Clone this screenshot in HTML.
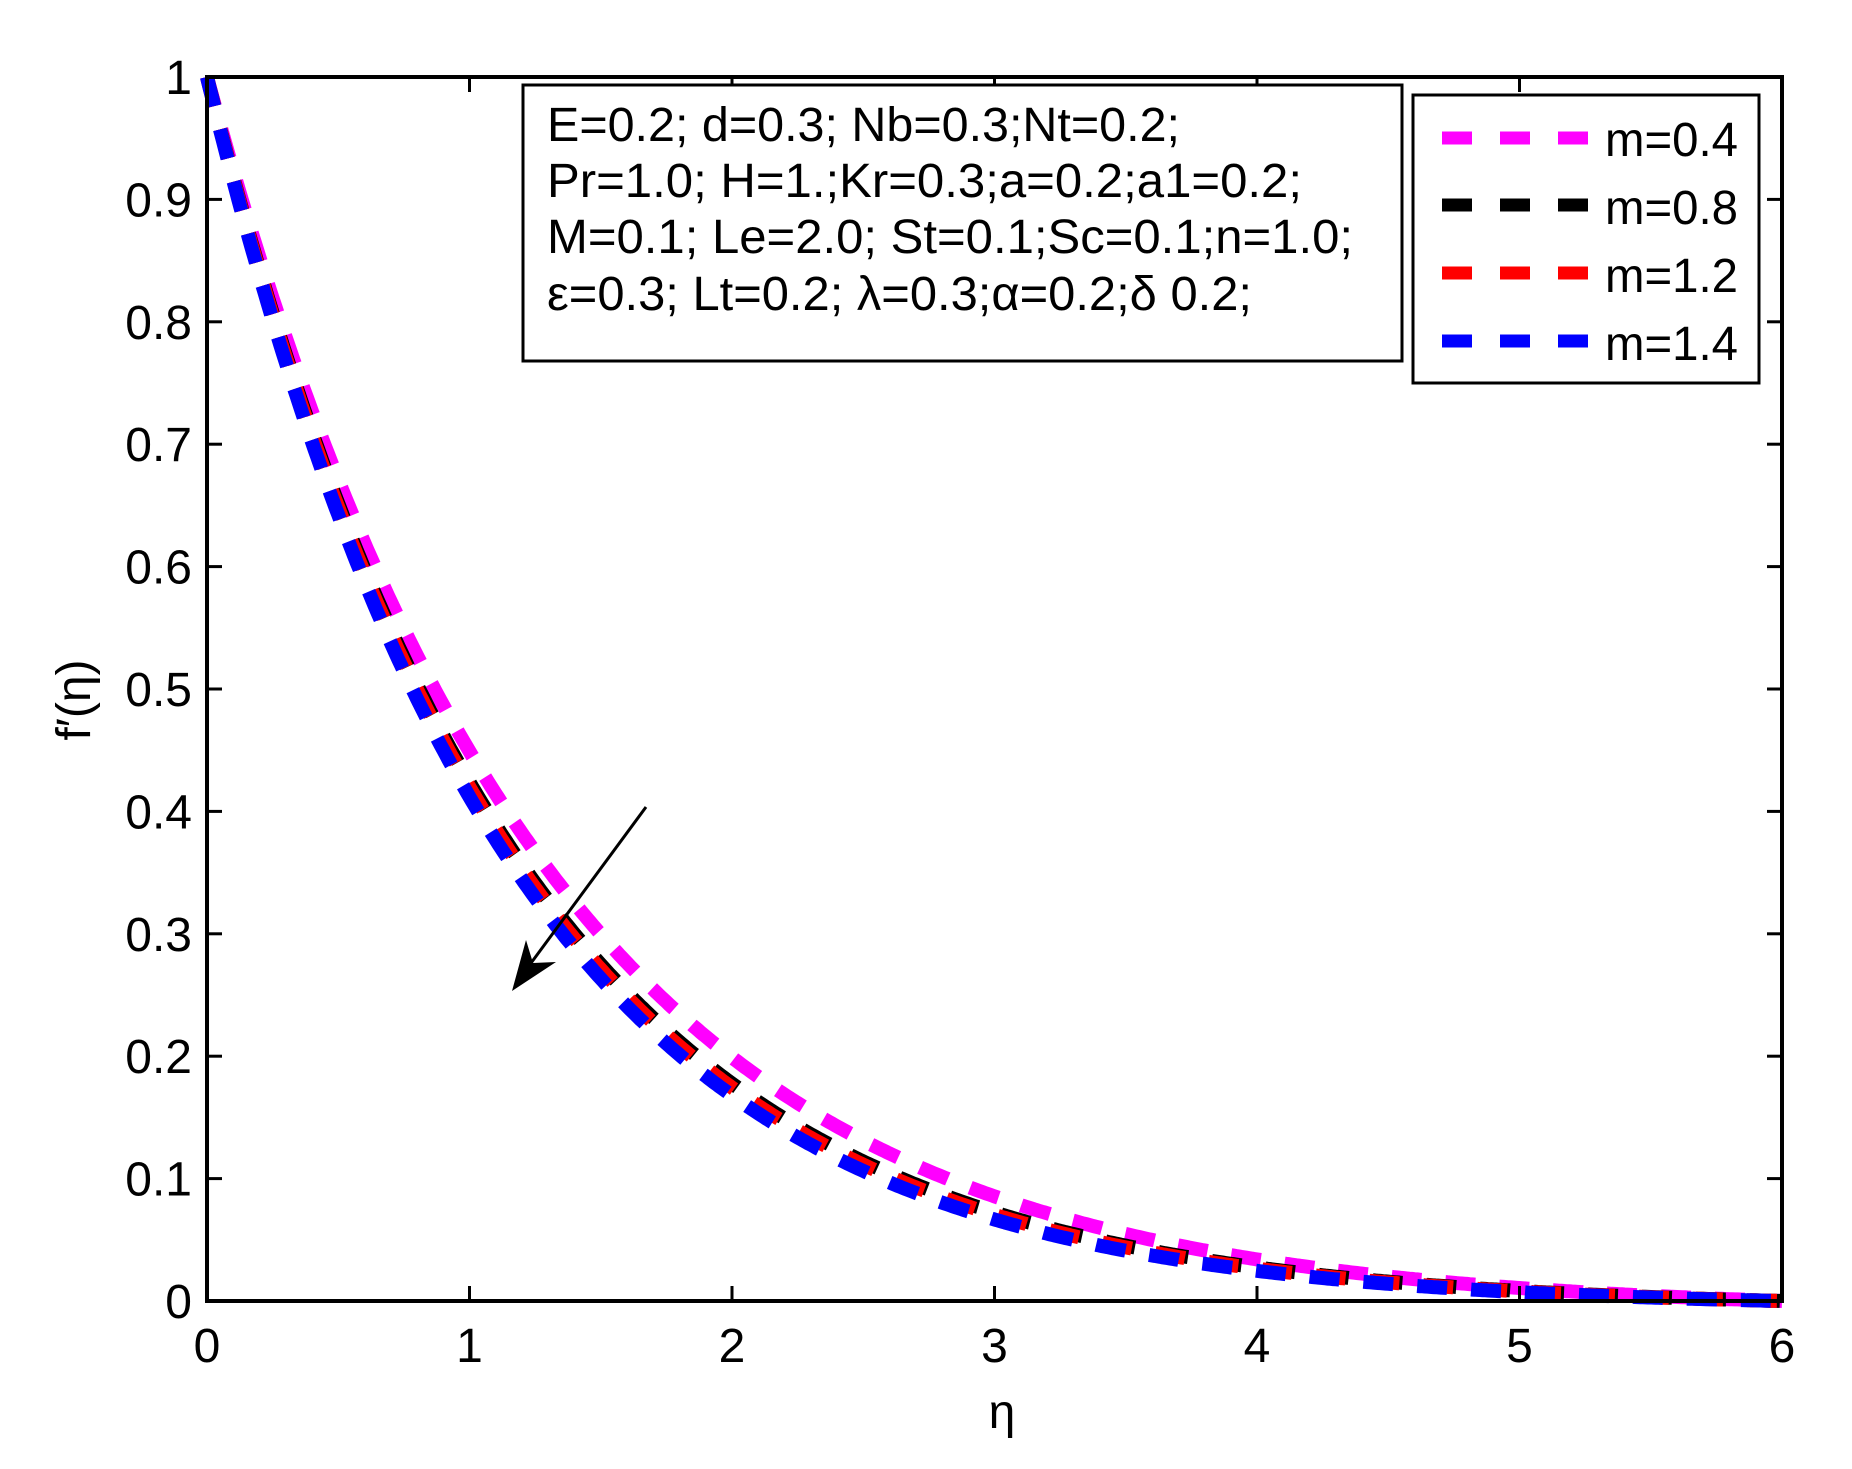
<!DOCTYPE html>
<html><head><meta charset="utf-8"><style>
html,body{margin:0;padding:0;background:#fff;}
svg{display:block;}
text{font-family:"Liberation Sans",Arial,sans-serif;fill:#000;}
</style></head><body>
<svg id="s" width="1852" height="1469" viewBox="0 0 1852 1469" xmlns="http://www.w3.org/2000/svg">
<rect width="1852" height="1469" fill="#fff"/>
<g id="curves" fill="none" stroke-width="14" stroke-dasharray="30 24"></g>
<rect x="207" y="77" width="1575" height="1224" fill="none" stroke="#000" stroke-width="4"/>
<g id="ticks" stroke="#000" stroke-width="3"></g>
<g id="labels" font-size="48"></g>
<text x="1002" y="1428" font-size="48" text-anchor="middle">η</text>
<text transform="translate(90,700) rotate(-90)" font-size="48" text-anchor="middle">f′(η)</text>
<rect x="523" y="85" width="879" height="276" fill="#fff" stroke="#000" stroke-width="3"/>
<g font-size="48">
<text x="547" y="141" textLength="633" lengthAdjust="spacingAndGlyphs">E=0.2; d=0.3; Nb=0.3;Nt=0.2;</text>
<text x="547" y="197" textLength="755" lengthAdjust="spacingAndGlyphs">Pr=1.0; H=1.;Kr=0.3;a=0.2;a1=0.2;</text>
<text x="547" y="253" textLength="806" lengthAdjust="spacingAndGlyphs">M=0.1; Le=2.0; St=0.1;Sc=0.1;n=1.0;</text>
<text x="547" y="310" textLength="705" lengthAdjust="spacingAndGlyphs">ε=0.3; Lt=0.2; λ=0.3;α=0.2;δ 0.2;</text>
</g>
<rect x="1413" y="95" width="346" height="288" fill="#fff" stroke="#000" stroke-width="3"/>
<g stroke-width="13" stroke-dasharray="30 28">
<line x1="1442" y1="138" x2="1588" y2="138" stroke="#ff00ff"/>
<line x1="1442" y1="205" x2="1588" y2="205" stroke="#000"/>
<line x1="1442" y1="273" x2="1588" y2="273" stroke="#ff0000"/>
<line x1="1442" y1="341" x2="1588" y2="341" stroke="#0000ff"/>
</g>
<g font-size="48">
<text x="1605" y="156" textLength="133" lengthAdjust="spacingAndGlyphs">m=0.4</text>
<text x="1605" y="224" textLength="133" lengthAdjust="spacingAndGlyphs">m=0.8</text>
<text x="1605" y="292" textLength="133" lengthAdjust="spacingAndGlyphs">m=1.2</text>
<text x="1605" y="360" textLength="133" lengthAdjust="spacingAndGlyphs">m=1.4</text>
</g>
<line x1="646" y1="807" x2="520" y2="978" stroke="#000" stroke-width="3"/>
<polygon points="512,991 526,940 533,963 556,962" fill="#000"/>
<script>
(function(){
var ns="http://www.w3.org/2000/svg";
var X=function(e){return 207+e*262.5;}, Y=function(v){return 1301-v*1224;};
var g=document.getElementById('curves');
var ser=[[0.79,'#ff00ff'],[0.85,'#000000'],[0.86,'#ff0000'],[0.88,'#0000ff']];
ser.forEach(function(s){
 var k=s[0],d='',e6=Math.exp(-6*k);
 for(var i=0;i<=600;i++){var e=i*0.01;var v=(Math.exp(-k*e)-e6)/(1-e6);
  d+=(i?'L':'M')+X(e).toFixed(1)+' '+Y(v).toFixed(1);}
 var p=document.createElementNS(ns,'path');p.setAttribute('d',d);p.setAttribute('stroke',s[1]);g.appendChild(p);
});
var t=document.getElementById('ticks'),l=document.getElementById('labels');
function ln(a,b,c,d){var e=document.createElementNS(ns,'line');e.setAttribute('x1',a);e.setAttribute('y1',b);e.setAttribute('x2',c);e.setAttribute('y2',d);t.appendChild(e);}
function tx(x,y,s,a){var e=document.createElementNS(ns,'text');e.setAttribute('x',x);e.setAttribute('y',y);e.setAttribute('text-anchor',a);e.textContent=s;l.appendChild(e);}
for(var i=0;i<=6;i++){var x=X(i);ln(x,1301,x,1286);ln(x,77,x,92);tx(x,1362,String(i),'middle');}
for(var j=0;j<=10;j++){var y=Y(j/10);ln(207,y,222,y);ln(1782,y,1767,y);
 var s=j==0?'0':(j==10?'1':'0.'+j);tx(192,y+17,s,'end');}
})();
</script>
</svg>
</body></html>
